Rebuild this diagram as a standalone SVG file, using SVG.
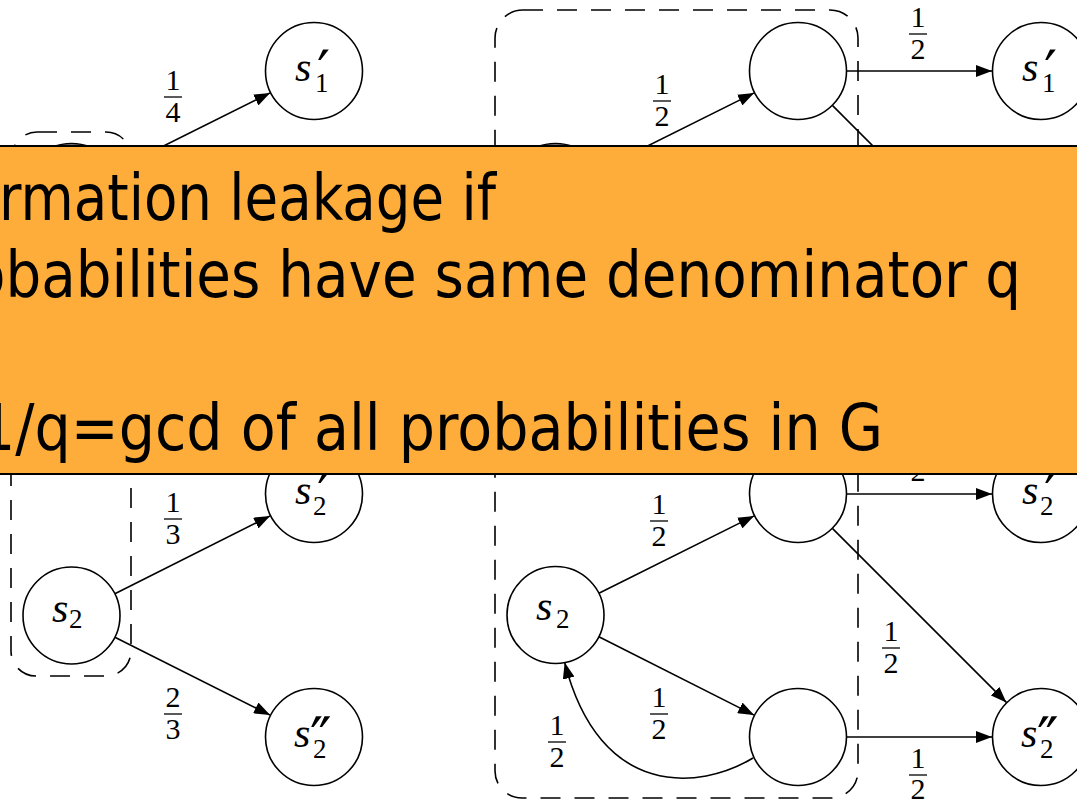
<svg xmlns="http://www.w3.org/2000/svg" width="1077" height="801" viewBox="0 0 1077 801">
<defs>
<marker id="arr" markerUnits="userSpaceOnUse" markerWidth="16" markerHeight="12" refX="16" refY="6" orient="auto"><path d="M0,0 L16,6 L0,12 Z" fill="#000"/></marker>
</defs>
<style>
.n{fill:#fff;stroke:#000;stroke-width:1.6}
.g{fill:#9a9a9a;stroke:#000;stroke-width:1.6}
.e{fill:none;stroke:#000;stroke-width:1.6}
.a{marker-end:url(#arr)}
.box{fill:none;stroke:#000;stroke-width:1.6;stroke-dasharray:20 14}
.m{font-family:"Liberation Serif","DejaVu Serif",serif;font-style:italic;font-size:42px}
.sub{font-family:"Liberation Serif","DejaVu Serif",serif;font-size:27px}
.pr{font-family:"DejaVu Sans","DejaVu Serif",sans-serif;font-size:58px}
.f{font-family:"Liberation Serif","DejaVu Serif",serif;font-size:30px;text-anchor:middle}
.fb{stroke:#000;stroke-width:1.3}
.big{font-family:"DejaVu Sans",Verdana,sans-serif;font-size:64px;fill:#000}
</style>
<rect width="1077" height="801" fill="#fff"/>
<g id="groups">
<rect class="box" x="12" y="132" width="119" height="300" rx="25"/>
<rect class="box" x="11" y="300" width="120" height="376" rx="25"/>
<rect class="box" x="495" y="10" width="363" height="300" rx="28"/>
<rect class="box" x="495" y="320" width="363" height="478" rx="27"/>
</g>
<g id="connectors">
<g><path class="e a" d="M114.9,170.3 L270.1,92.9"/><text class="f" x="173" y="90">1</text><line class="fb" x1="164" y1="97" x2="182" y2="97"/><text class="f" x="173" y="122">4</text></g>
<g><path class="e a" d="M114.9,593.8 L270.1,515.9"/><text class="f" x="173" y="512">1</text><line class="fb" x1="164" y1="519" x2="182" y2="519"/><text class="f" x="173" y="544">3</text></g>
<g><path class="e a" d="M114.9,637.2 L270.1,715.1"/><text class="f" x="173" y="707">2</text><line class="fb" x1="164" y1="714" x2="182" y2="714"/><text class="f" x="173" y="739">3</text></g>
<g><path class="e a" d="M598.9,170.3 L754.1,92.9"/><text class="f" x="662" y="94">1</text><line class="fb" x1="653" y1="101" x2="671" y2="101"/><text class="f" x="662" y="126">2</text></g>
<g><path class="e a" d="M847,71 L992,71"/><text class="f" x="918" y="27">1</text><line class="fb" x1="909" y1="34" x2="927" y2="34"/><text class="f" x="918" y="59">2</text></g>
<g><path class="e" d="M832.6,105.6 L960,233"/></g>
<g><path class="e a" d="M598.9,593.3 L754.1,515.9"/><text class="f" x="659" y="514">1</text><line class="fb" x1="650" y1="521" x2="668" y2="521"/><text class="f" x="659" y="546">2</text></g>
<g><path class="e a" d="M598.9,636.7 L754.1,715.1"/><text class="f" x="659" y="707">1</text><line class="fb" x1="650" y1="714" x2="668" y2="714"/><text class="f" x="659" y="739">2</text></g>
<g><path class="e a" d="M847,494 L992,494"/><text class="f" x="918" y="449">1</text><line class="fb" x1="909" y1="456" x2="927" y2="456"/><text class="f" x="918" y="481">2</text></g>
<g><path class="e a" d="M832.6,528.6 L1006.4,702.4"/><text class="f" x="891" y="641">1</text><line class="fb" x1="882" y1="648" x2="900" y2="648"/><text class="f" x="891" y="673">2</text></g>
<g><path class="e a" d="M847,737 L992,737"/><text class="f" x="918" y="768">1</text><line class="fb" x1="909" y1="775" x2="927" y2="775"/><text class="f" x="918" y="799">2</text></g>
<g><path class="e a" d="M753,758 C700,790 600,800 564.7,662.6"/><text class="f" x="557" y="735">1</text><line class="fb" x1="548" y1="742" x2="566" y2="742"/><text class="f" x="557" y="767">2</text></g>
</g>
<g id="s1-left"><circle class="g" cx="71.5" cy="192" r="48.5"/></g>
<g id="s1p-left"><circle class="n" cx="314" cy="71" r="48.5"/><text class="m" x="295" y="81">s</text><text class="pr" x="317" y="92">′</text><text class="sub" x="315" y="92">1</text></g>
<g id="s2-left"><circle class="n" cx="71.5" cy="615.5" r="48.5"/><text class="m" x="52" y="622">s</text><text class="sub" x="69" y="628">2</text></g>
<g id="s2p-left"><circle class="n" cx="314" cy="494" r="48.5"/><text class="m" x="295" y="504">s</text><text class="pr" x="317" y="515">′</text><text class="sub" x="313" y="515">2</text></g>
<g id="s2pp-left"><circle class="n" cx="314" cy="737" r="48.5"/><text class="m" x="294" y="747">s</text><text class="pr" x="310" y="759">″</text><text class="sub" x="313" y="758">2</text></g>
<g id="s1-right"><circle class="g" cx="555.5" cy="192" r="48.5"/></g>
<g id="a-right"><circle class="n" cx="798" cy="71" r="48.5"/></g>
<g id="s1p-right"><circle class="n" cx="1041" cy="71" r="48.5"/><text class="m" x="1022" y="81">s</text><text class="pr" x="1044" y="92">′</text><text class="sub" x="1042" y="92">1</text></g>
<g id="s2-right"><circle class="n" cx="555.5" cy="615" r="48.5"/><text class="m" x="536" y="620">s</text><text class="sub" x="556" y="628">2</text></g>
<g id="b-right"><circle class="n" cx="798" cy="494" r="48.5"/></g>
<g id="s2p-right"><circle class="n" cx="1041" cy="494" r="48.5"/><text class="m" x="1022" y="504">s</text><text class="pr" x="1044" y="515">′</text><text class="sub" x="1040" y="515">2</text></g>
<g id="c-right"><circle class="n" cx="798" cy="737" r="48.5"/></g>
<g id="s2pp-right"><circle class="n" cx="1041" cy="737" r="48.5"/><text class="m" x="1021" y="747">s</text><text class="pr" x="1037" y="759">″</text><text class="sub" x="1040" y="758">2</text></g>
<g id="callout">
<rect x="-4" y="146" width="1085" height="328" fill="#FEAD3A" stroke="#000" stroke-width="2"/>
<text class="big" x="-1" y="220" textLength="497" lengthAdjust="spacingAndGlyphs">rmation leakage if</text>
<text class="big" x="-29" y="297" textLength="1050" lengthAdjust="spacingAndGlyphs">obabilities have same denominator q</text>
<text class="big" x="-21" y="450" textLength="904" lengthAdjust="spacingAndGlyphs">1/q=gcd of all probabilities in G</text>
</g>
</svg>
